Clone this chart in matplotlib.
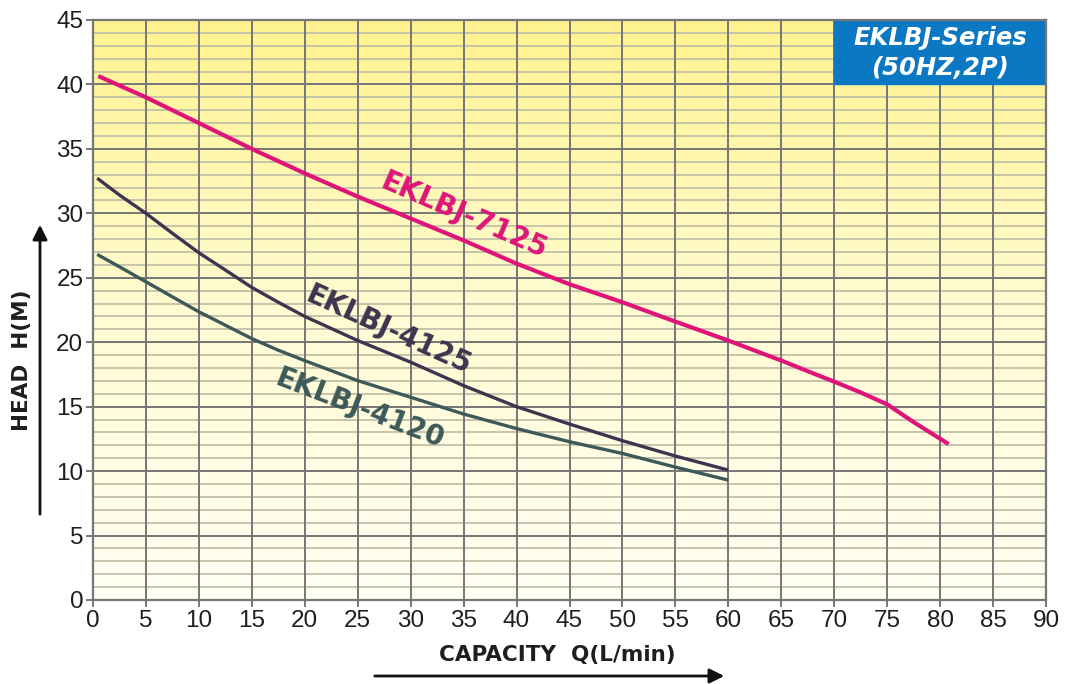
import numpy as np
import matplotlib.pyplot as plt
from matplotlib.colors import LinearSegmentedColormap

plt.rcParams['font.family'] = ['Liberation Sans', 'DejaVu Sans']

# pump curves
q_7125 = [0.5, 5, 10, 15, 20, 25, 30, 35, 40, 45, 50, 55, 60, 62.5, 65, 67.5, 70, 72.5, 75, 77.5, 80.8]
h_7125 = [40.65, 39.0, 37.0, 35.0, 33.1, 31.3, 29.6, 27.9, 26.1, 24.5, 23.1, 21.6, 20.13,
          19.35, 18.58, 17.75, 16.94, 16.1, 15.18, 13.8, 12.1]

q_4125 = [0.4, 2.5, 5, 7.5, 10, 12.5, 15, 17.5, 20, 25, 30, 35, 40, 45, 50, 55, 60]
h_4125 = [32.72, 31.42, 30.0, 28.45, 26.94, 25.6, 24.25, 23.1, 22.0,
          20.13, 18.45, 16.63, 15.0, 13.65, 12.36, 11.17, 10.08]

q_4120 = [0.4, 2.5, 5, 7.5, 10, 12.5, 15, 17.5, 20, 25, 30, 35, 40, 45, 50, 55, 60]
h_4120 = [26.81, 25.85, 24.69, 23.52, 22.36, 21.32, 20.28, 19.38, 18.57,
          17.02, 15.73, 14.43, 13.3, 12.28, 11.37, 10.31, 9.3]

xticks = list(range(0, 91, 5))
yticks = list(range(0, 46, 5))

fig = plt.figure(figsize=(10.65, 6.84), dpi=100)
ax = fig.add_axes([93/1065, 1 - 600/684, (1046-93)/1065, (600-20)/684])

# yellow -> white background
cmap = LinearSegmentedColormap.from_list('bg', ['#fffff4', '#fffbd2', '#fff38e'])
grad = np.linspace(0, 1, 256).reshape(-1, 1)
ax.imshow(grad, extent=[0, 90, 0, 45], origin='lower', aspect='auto', cmap=cmap, zorder=0)

# grid
for yy in range(1, 45):
    if yy % 5:
        ax.axhline(yy, color='#c2c0a8', lw=1.3, zorder=1)
for yy in yticks[1:-1]:
    ax.axhline(yy, color='#767676', lw=1.4, zorder=2)
for xx in xticks[1:-1]:
    ax.axvline(xx, color='#767676', lw=1.4, zorder=2)

ax.plot(q_7125, h_7125, color='#de1479', lw=3.0, zorder=4, solid_capstyle='butt')
ax.plot(q_4125, h_4125, color='#3d3550', lw=2.4, zorder=4, solid_capstyle='butt')
ax.plot(q_4120, h_4120, color='#3c5958', lw=2.4, zorder=4, solid_capstyle='butt')

lab = dict(fontsize=20, fontweight='bold', family='DejaVu Sans', ha='center', va='center', zorder=5)
ax.text(35.0, 29.85, 'EKLBJ-7125', color='#de1479', rotation=-23.5, **lab)
ax.text(27.9, 20.95, 'EKLBJ-4125', color='#3d3550', rotation=-24.5, **lab)
ax.text(25.2, 14.8, 'EKLBJ-4120', color='#3c5958', rotation=-21, **lab)

# series box
ax.fill_between([70, 90], 40, 45, color='#0a78c2', zorder=6)
box = dict(color='white', fontsize=17.5, fontweight='bold', fontstyle='italic',
           family='DejaVu Sans', ha='center', va='center', zorder=7)
ax.text(80, 43.6, 'EKLBJ-Series', **box)
ax.text(80, 41.3, '(50HZ,2P)', **box)

ax.set_xlim(0, 90)
ax.set_ylim(0, 45)
ax.set_xticks(xticks)
ax.set_yticks(yticks)
ax.tick_params(direction='out', length=5, width=1.4, color='#767676',
               labelsize=17.5, labelcolor='#1e1e1e', pad=2)
for s in ax.spines.values():
    s.set_color('#767676')
    s.set_linewidth(1.6)
    s.set_zorder(8)

fig.text(557/1065, 1 - 655/684, 'CAPACITY  Q(L/min)', fontsize=15.5, fontweight='bold',
         family='DejaVu Sans', color='#1e1e1e', ha='center', va='center')
fig.text(22/1065, 1 - 360/684, 'HEAD  H(M)', fontsize=15.5, fontweight='bold',
         family='DejaVu Sans', color='#1e1e1e', ha='center', va='center', rotation=90)

ax.annotate('', xy=(727, 8), xytext=(372, 8), xycoords='figure pixels',
            arrowprops=dict(arrowstyle='-|>', color='#111111', lw=2, mutation_scale=22))
ax.annotate('', xy=(40, 462), xytext=(40, 167), xycoords='figure pixels',
            arrowprops=dict(arrowstyle='-|>', color='#111111', lw=2, mutation_scale=22))

fig.savefig('out.png', dpi=100)
